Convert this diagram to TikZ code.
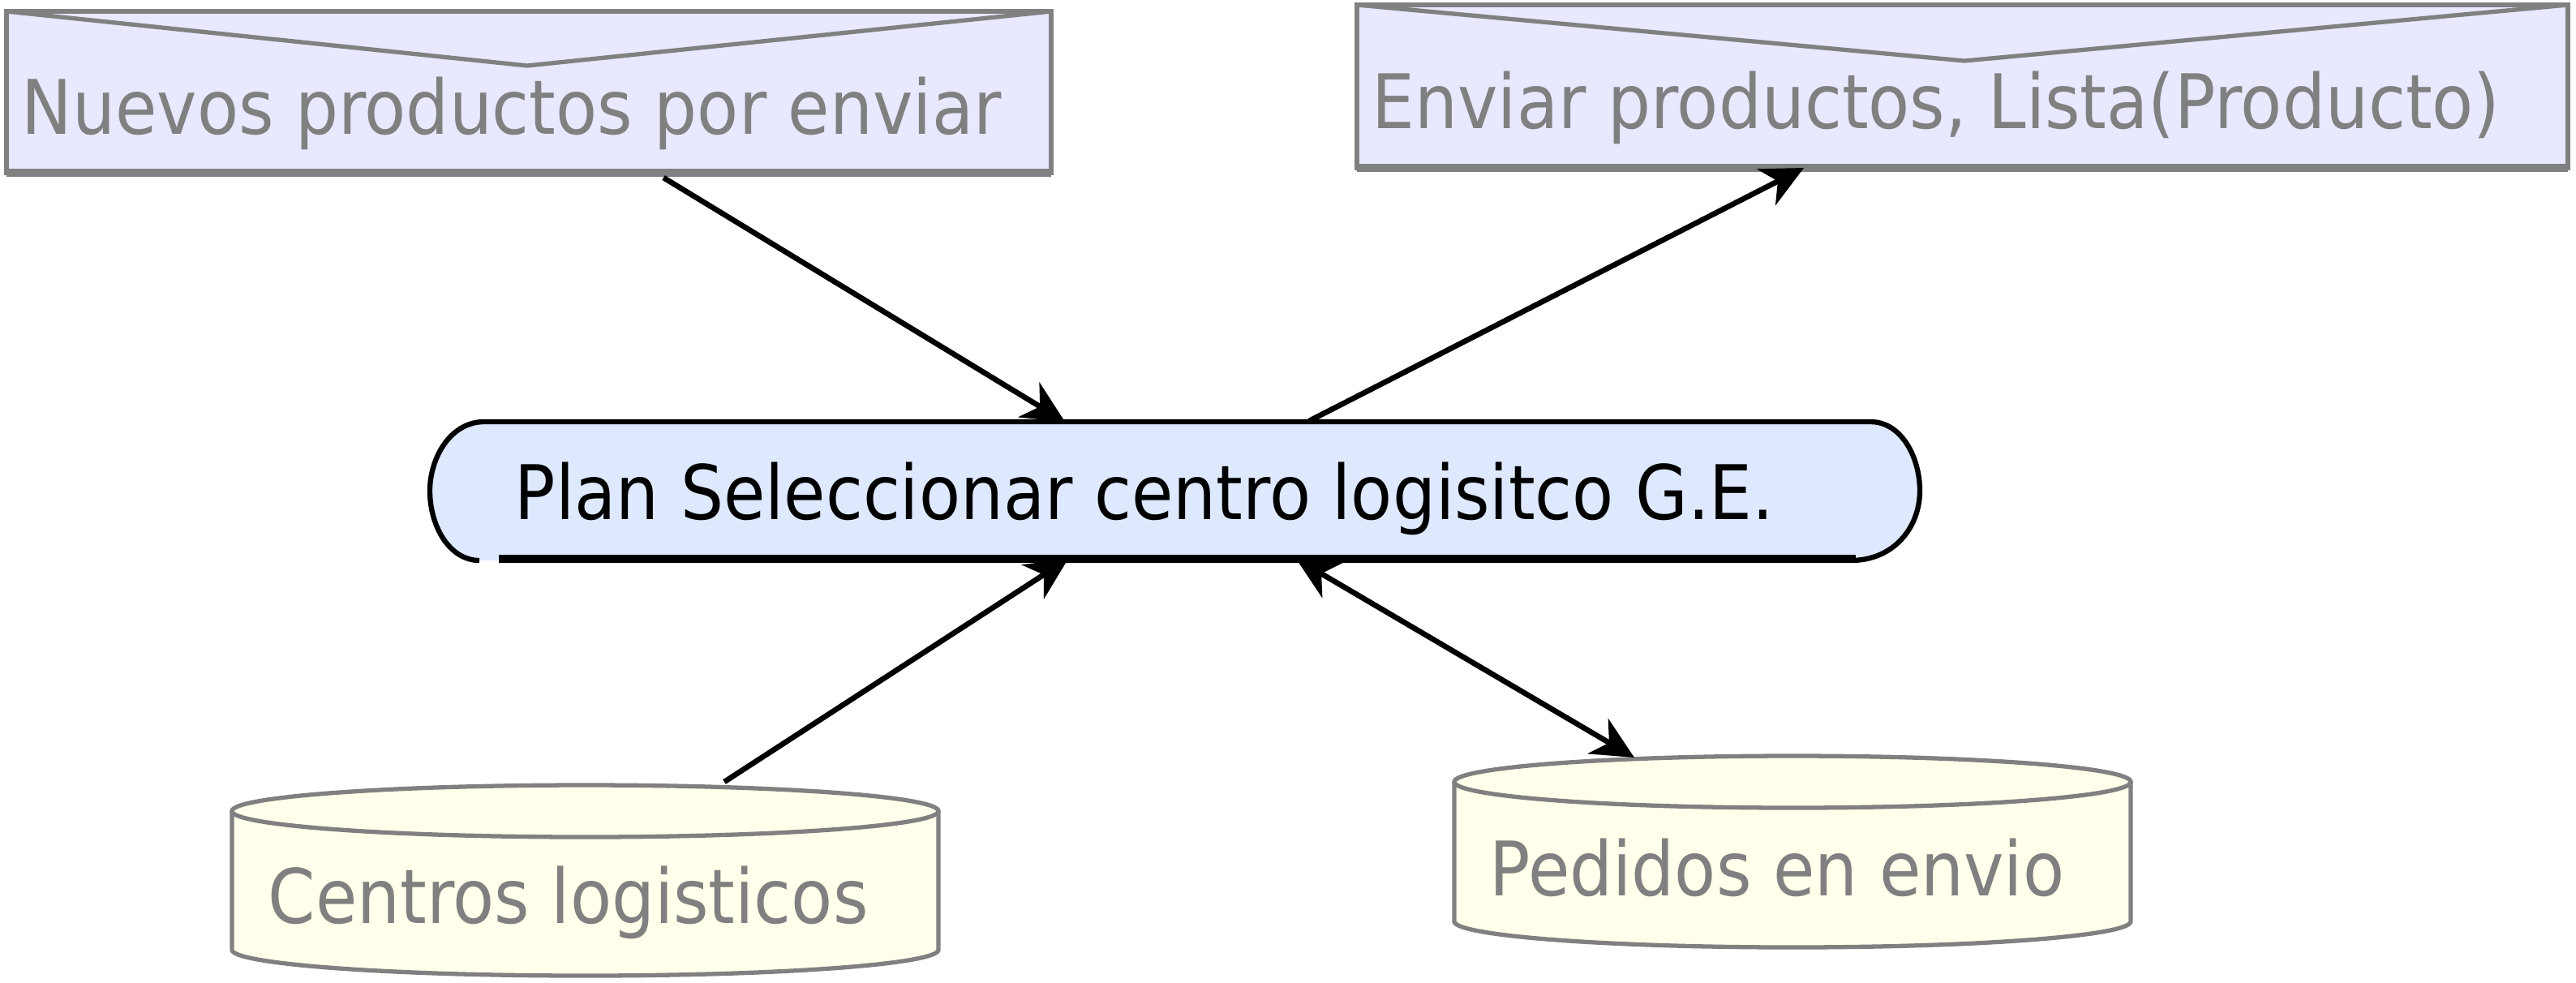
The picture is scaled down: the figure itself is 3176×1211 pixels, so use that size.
\documentclass[tikz,border=0pt]{standalone}
\usepackage{fontspec}
\setmainfont{DejaVu Sans}[FakeStretch=0.9]
\usetikzlibrary{arrows.meta}
\definecolor{edgegray}{RGB}{128,128,128}
\definecolor{boxfill}{RGB}{232,232,255}
\definecolor{planfill}{RGB}{222,233,255}
\definecolor{dbfill}{RGB}{255,255,235}
\newcommand\dbcyl[5]{%
  \pgfmathsetmacro\cx{(#1+#2)/2}%
  \pgfmathsetmacro\rx{(#2-#1)/2}%
  \pgfmathsetmacro\kx{0.5523*\rx}%
  \pgfmathsetmacro\ky{0.5523*#5}%
  \fill[dbfill] (#1,#3) -- (#1,#4) .. controls (#1,#4+\ky) and (\cx-\kx,#4+#5) .. (\cx,#4+#5) .. controls (\cx+\kx,#4+#5) and (#2,#4+\ky) .. (#2,#4) -- (#2,#3) -- cycle;
  \draw[dbline] (#1,#3) -- (#1,#4) .. controls (#1,#4+\ky) and (\cx-\kx,#4+#5) .. (\cx,#4+#5) .. controls (\cx+\kx,#4+#5) and (#2,#4+\ky) .. (#2,#4) -- (#2,#3);
  \draw[dbline,fill=dbfill] (\cx,#3) ellipse [x radius=\rx, y radius=#5];
}
\begin{document}
\begin{tikzpicture}[x=0.01cm,y=-0.01cm,
  lbl/.style={anchor=base west,inner sep=0pt,font=\fontsize{26.4}{30}\selectfont,text=edgegray},
  planlbl/.style={lbl,text=black},
  envline/.style={draw=edgegray,line width=1.5pt,line join=miter},
  dbline/.style={draw=edgegray,line width=1.5pt},
  planline/.style={draw=black,line width=1.8pt},
  flow/.style={line width=1.9pt,-{Stealth[length=0.52cm,width=0.5cm,inset=0.16cm]}},
  flowboth/.style={line width=1.9pt,{Stealth[length=0.52cm,width=0.5cm,inset=0.16cm]}-{Stealth[length=0.52cm,width=0.5cm,inset=0.16cm]}}]
\useasboundingbox (0,0) rectangle (3176,1211);

% envelope 1
\fill[boxfill] (8,14) rectangle (1296,213);
\draw[envline] (8,14) rectangle (1296,213);
\draw[envline] (8,14) -- (650,81) -- (1296,14);
\draw[edgegray,line width=2.6pt] (8,213) -- (1296,213);
\node[lbl] (nuevos) at (26,165) {Nuevos productos por enviar};

% envelope 2
\fill[boxfill] (1673,6) rectangle (3166,207);
\draw[envline] (1673,6) rectangle (3166,207);
\draw[envline] (1673,6) -- (2422,75) -- (3166,6);
\draw[edgegray,line width=2.6pt] (1673,207) -- (3166,207);
\node[lbl] (enviar) at (1691,158) {Enviar productos, Lista(Producto)};

% plan
\fill[planfill] (597,520) -- (2306,520) .. controls (2345,520) and (2367,565) .. (2367,605) .. controls (2367,650) and (2335,691) .. (2282,691) -- (591,691) .. controls (555,691) and (530,650) .. (530,605) .. controls (530,565) and (555,520) .. (597,520) -- cycle;
\draw[planline] (591,691) .. controls (555,691) and (530,650) .. (530,605) .. controls (530,565) and (555,520) .. (597,520) -- (2306,520) .. controls (2345,520) and (2367,565) .. (2367,605) .. controls (2367,650) and (2335,691) .. (2282,691);
\draw[black,line width=2.6pt] (615,689) -- (2288,689);
\node[planlbl] (plan) at (634,640) {Plan Seleccionar centro logisitco G.E.};

% data stores
\dbcyl{286}{1157}{1000}{1171}{32}
\node[lbl] (centros) at (330,1138) {Centros logisticos};
\dbcyl{1793}{2627}{964}{1136}{32}
\node[lbl] (pedidos) at (1836,1104) {Pedidos en envio};

% connector end points
\coordinate (n1) at (818,219);
\coordinate (p1) at (1313,520);
\coordinate (p2) at (1614,519);
\coordinate (e2) at (2224,207);
\coordinate (c3) at (893,964);
\coordinate (p3) at (1317,689);
\coordinate (p4) at (1598,689);
\coordinate (d4) at (2015,934);

\draw[flow] (n1) -- (p1);
\draw[flow] (p2) -- (e2);
\draw[flow] (c3) -- (p3);
\draw[flowboth] (p4) -- (d4);
\end{tikzpicture}
\end{document}
